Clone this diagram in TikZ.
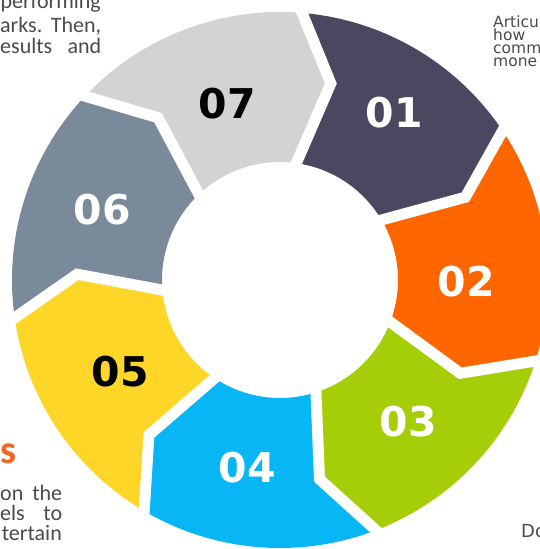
\documentclass[tikz,border=0pt]{standalone}
\usepackage{fontspec}
\setmainfont{Liberation Sans}
\newfontfamily\carlito{Carlito}
\newfontfamily\dejavu{DejaVu Sans}
\definecolor{c01}{RGB}{74,71,96}
\definecolor{c02}{RGB}{255,102,0}
\definecolor{c03}{RGB}{166,206,8}
\definecolor{c04}{RGB}{8,181,245}
\definecolor{c05}{RGB}{253,214,40}
\definecolor{c06}{RGB}{122,138,154}
\definecolor{c07}{RGB}{211,211,211}
\definecolor{txtgray}{RGB}{75,75,75}
\definecolor{headorange}{RGB}{242,101,34}
\tikzset{
  sep/.style={white, line width=11pt, line join=miter},
  num/.style={font=\dejavu\bfseries\fontsize{41}{41}\selectfont, inner sep=0pt},
  paraL/.style={font=\carlito\fontsize{22}{22}\selectfont, text=txtgray, inner sep=0pt},
  paraB/.style={font=\carlito\fontsize{22}{22}\selectfont, text=txtgray, inner sep=0pt},
  paraR/.style={font=\dejavu\fontsize{15.5}{13}\selectfont, text=txtgray, inner sep=0pt},
}
\begin{document}
\begin{tikzpicture}[x=1pt,y=-1pt]
\useasboundingbox (0,0) rectangle (540,549);
\fill[white] (0,0) rectangle (540,549);
% segments
\foreach \k/\col in {1/c01,2/c02,3/c03,4/c04,5/c05,6/c06,7/c07}{
  \pgfmathsetmacro{\a}{86.5-51.4286*(\k-1)}
  \pgfmathsetmacro{\b}{\a-51.4286}
  \pgfmathsetmacro{\ai}{\a-3}
  \pgfmathsetmacro{\bi}{\b-3}
  \pgfmathsetmacro{\at}{\a-11}
  \pgfmathsetmacro{\bt}{\b-11}
  \fill[\col] plot[domain=\a:\b, samples=40] ({280+268*cos(\x)},{280-268*sin(\x)})
     -- ({280+203*cos(\bt)},{280-203*sin(\bt)})
     -- ({280+118*cos(\bi)},{280-118*sin(\bi)})
     -- plot[domain=\bi:\ai, samples=30] ({280+118*cos(\x)},{280-118*sin(\x)})
     -- ({280+203*cos(\at)},{280-203*sin(\at)}) -- cycle;
}
% white gaps
\foreach \j in {0,...,6}{
  \pgfmathsetmacro{\t}{86.5-51.4286*\j}
  \pgfmathsetmacro{\tt}{\t-11}
  \pgfmathsetmacro{\ti}{\t-3}
  \draw[sep] ({280+280*cos(\t)},{280-280*sin(\t)})
     -- ({280+203*cos(\tt)},{280-203*sin(\tt)})
     -- ({280+108*cos(\ti)},{280-108*sin(\ti)});
}
% numbers
\node[num, text=white] (n01) at (394,113) {01};
\node[num, text=white] (n02) at (466,282) {02};
\node[num, text=white] (n03) at (408,422) {03};
\node[num, text=white] (n04) at (247,468) {04};
\node[num, text=black] (n05) at (120,372) {05};
\node[num, text=white] (n06) at (102,210) {06};
\node[num, text=black] (n07) at (227,104) {07};
% top-left paragraph
\node[paraL, anchor=base east] (tl1) at (101,8) {performing};
\node[paraL, anchor=base west] (tl2) at (0,32) {\makebox[101pt]{arks.\hfill Then,}};
\node[paraL, anchor=base west] (tl3) at (0,53) {\makebox[101pt]{esults\hfill and}};
% top-right paragraph
\node[paraR, anchor=base west] (tr1) at (493,27) {Articu};
\node[paraR, anchor=base west] (tr2) at (493,40) {how};
\node[paraR, anchor=base west] (tr3) at (493,53) {comm};
\node[paraR, anchor=base west] (tr4) at (493,66) {mone};
% bottom-left heading and paragraph
\node[font=\carlito\bfseries\fontsize{40}{40}\selectfont, text=headorange, inner sep=0pt, anchor=base east] (bh) at (17,463) {s};
\node[paraB, anchor=base west] (bl1) at (0,500) {\makebox[62pt]{on\hfill the}};
\node[paraB, anchor=base west] (bl2) at (0,520) {\makebox[62pt]{els\hfill to}};
\node[paraB, anchor=base east] (bl3) at (62,540) {tertain};
% bottom-right
\node[paraR, font=\dejavu\fontsize{18}{18}\selectfont, anchor=base west] (br1) at (521,537) {Do};
\end{tikzpicture}
\end{document}
